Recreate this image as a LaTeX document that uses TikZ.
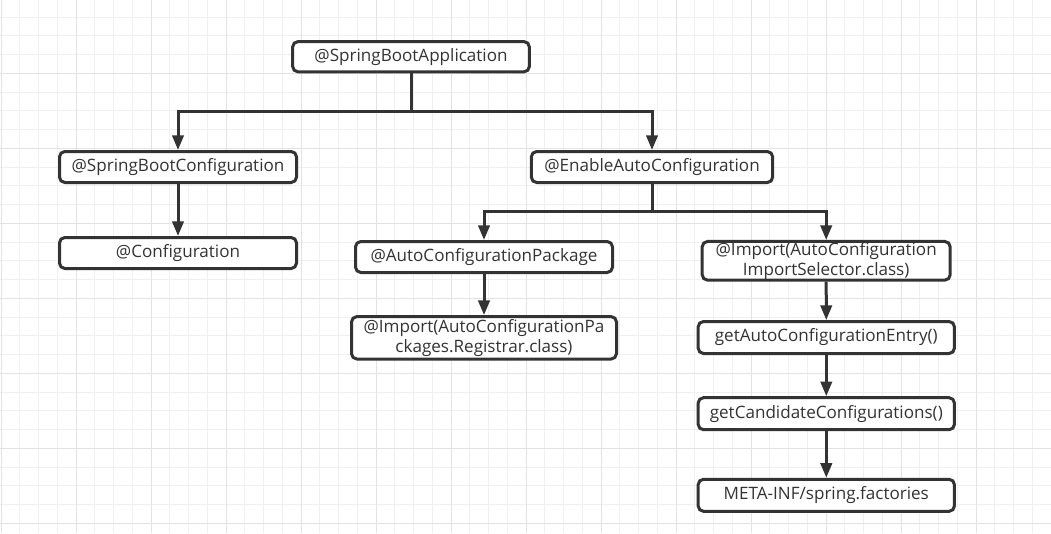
\documentclass[tikz,border=0pt]{standalone}
\usepackage{fontspec}
\setmainfont{Open Sans}
\usetikzlibrary{arrows.meta,positioning}

\definecolor{gridminor}{HTML}{F0F0F0}
\definecolor{gridmajor}{HTML}{E2E2E2}
\definecolor{ink}{HTML}{333333}

\tikzset{
  box/.style={draw=ink, line width=2.25pt, rounded corners=4pt, fill=white,
    text=ink, font=\fontsize{12.8}{15}\selectfont, inner sep=0pt, align=center},
  conn/.style={draw=ink, line width=2.25pt, -{Triangle[length=11pt,width=8.5pt]}}
}

\begin{document}
\begin{tikzpicture}[x=0.75pt, y=-0.75pt]
  \useasboundingbox (0,0) rectangle (1051,533);
  \fill[white] (0,0) rectangle (1051,533);          %Background

  % grid paper
  \foreach \k in {0,...,56} \draw[gridminor, line width=0.75pt] ({1+18.75*\k},0) -- ({1+18.75*\k},533);
  \foreach \k in {1,...,28} \draw[gridminor, line width=0.75pt] (0,{-1.7+18.75*\k}) -- (1051,{-1.7+18.75*\k});
  \foreach \k in {0,4,...,56} \draw[gridmajor, line width=0.75pt] ({1+18.75*\k},0) -- ({1+18.75*\k},533);
  \foreach \k in {4,8,...,28} \draw[gridmajor, line width=0.75pt] (0,{-1.7+18.75*\k}) -- (1051,{-1.7+18.75*\k});

  % boxes
  \node[box, minimum width=177.5pt, minimum height=22.7pt] (sba) at (411,56.7) {@SpringBootApplication};
  \node[box, minimum width=177.75pt, minimum height=23.25pt] (sbc) at (178,167) {@SpringBootConfiguration};
  \node[box, minimum width=177.75pt, minimum height=23.25pt] (cfg) at (178,253) {@Configuration};
  \node[box, minimum width=181pt, minimum height=23.25pt] (eac) at (652,167) {@EnableAutoConfiguration};
  \node[box, minimum width=192.75pt, minimum height=23.25pt] (acp) at (484,257) {@AutoConfigurationPackage};
  \node[box, minimum width=198.75pt, minimum height=31.8pt] (impreg) at (484,337.8) {@Import(AutoConfigurationPa\\ckages.Registrar.class)};
  \node[box, minimum width=186pt, minimum height=29pt] (impsel) at (826.2,260.8) {@Import(AutoConfiguration\\ImportSelector.class)};
  \node[box, minimum width=192.2pt, minimum height=24pt] (entry) at (826.3,337.5) {getAutoConfigurationEntry()};
  \node[box, minimum width=192.2pt, minimum height=24pt] (cand) at (826.3,413.7) {getCandidateConfigurations()};
  \node[box, minimum width=192.2pt, minimum height=24pt] (meta) at (826.3,495.3) {META-INF/spring.factories};

  % connectors
  \draw[conn] (sba.south) -- ++(0,37.7) -| (sbc.north);
  \draw[conn] (sba.south) -- ++(0,37.7) -| (eac.north);
  \draw[conn] (sbc) -- (cfg);
  \draw[conn] (eac.south) -- ++(0,27.7) -| (acp.north);
  \draw[conn] (eac.south) -- ++(0,27.7) -| (impsel.north);
  \draw[conn] (acp) -- (impreg);
  \draw[conn] (impsel) -- (entry);
  \draw[conn] (entry) -- (cand);
  \draw[conn] (cand) -- (meta);
\end{tikzpicture}
\end{document}
